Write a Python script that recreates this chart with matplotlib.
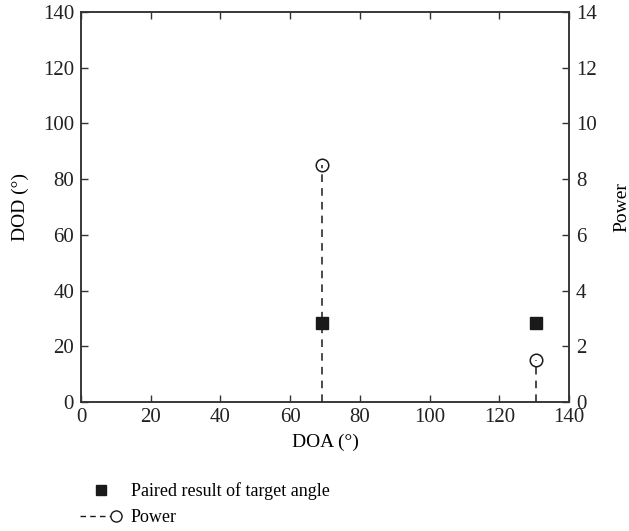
import numpy as np
import matplotlib.pyplot as plt
from matplotlib.lines import Line2D
from matplotlib.legend_handler import HandlerBase

plt.rcParams['font.family'] = ['Liberation Serif', 'DejaVu Serif']
plt.rcParams['font.size'] = 15

# paired estimates (DOA, DOD) in degrees
doa = [69.0, 130.5]
dod = [28.5, 28.5]
# power of each target
power = [8.5, 1.5]


# legend key: dashes ending in the open circle, like "--o"
class DashThenCircle(HandlerBase):
    def create_artists(self, legend, orig_handle, xdescent, ydescent,
                       width, height, fontsize, trans):
        y = height / 2 - ydescent
        x1 = width - xdescent
        line = Line2D([-xdescent, x1], [y, y], ls=(0, (4, 3)), lw=1,
                      color='#1a1a1a', transform=trans)
        mk = Line2D([x1 - 4], [y], ls='none', marker='o', mfc='white',
                    mec='#1a1a1a', ms=8, mew=1, transform=trans)
        return [line, mk]


fig = plt.figure(figsize=(6.29, 5.31), dpi=100)
ax = fig.add_axes([81/629, 1 - 402/531, 488/629, 390/531])
ax2 = ax.twinx()

ax.plot(doa, dod, 's', color='#1a1a1a', ms=8, zorder=3)
ax2.vlines(doa, 0, power, colors='#1a1a1a', linestyles=(0, (5, 4)), lw=1.1)
ax2.plot(doa, power, 'o', mfc='none', mec='#1a1a1a', ms=9, mew=1.1)

ax.set_xlim(0, 140)
ax.set_ylim(0, 140)
ax2.set_ylim(0, 14)
ax.set_xticks(np.arange(0, 141, 20))
ax.set_yticks(np.arange(0, 141, 20))
ax2.set_yticks(np.arange(0, 15, 2))
ax.set_xlabel('DOA (°)', labelpad=5, fontsize=14)
ax.set_ylabel('DOD (°)', labelpad=10, fontsize=14)
ax2.set_ylabel('Power', labelpad=12, fontsize=14)

for a in (ax, ax2):
    for s in a.spines.values():
        s.set_color('#333333')
        s.set_linewidth(1.1)
    a.tick_params(direction='in', length=5, width=1, colors='#333333', labelcolor='#222222')
ax.tick_params(axis='x', top=True, pad=4)
ax.tick_params(axis='y', pad=5)
ax2.tick_params(axis='y', pad=5)

h1 = Line2D([], [], ls='none', marker='s', color='#1a1a1a', ms=7)
h2 = Line2D([], [], ls='--', color='#1a1a1a', marker='o', mfc='none')
fig.legend([h1, h2], ['Paired result of target angle', 'Power'],
           handler_map={h2: DashThenCircle()},
           loc='upper left', bbox_to_anchor=(64/629, 1 - 466/531), frameon=False,
           handlelength=2.3, handletextpad=0.5, labelspacing=0.5,
           fontsize=13)

fig.savefig('out.png', dpi=100)
